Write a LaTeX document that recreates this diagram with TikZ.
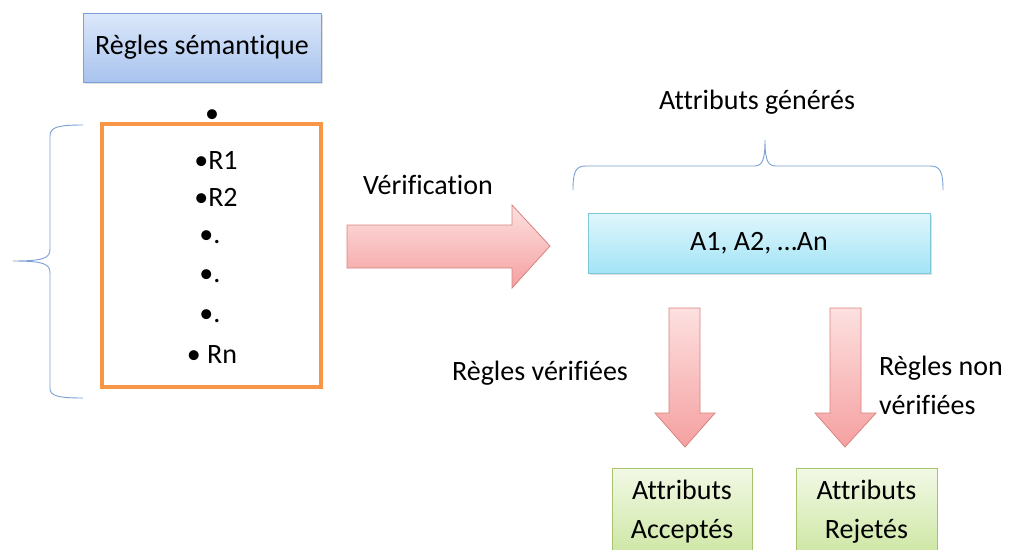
\documentclass[tikz,border=0pt]{standalone}
\usepackage{fontspec}
\setmainfont{Carlito}[Ligatures=NoCommon]
\usetikzlibrary{shadows}
\definecolor{bluetop}{HTML}{DCE8FA}
\definecolor{bluebot}{HTML}{A8C3EE}
\definecolor{blueedge}{HTML}{7DA0D6}
\definecolor{cyantop}{HTML}{E0F6FC}
\definecolor{cyanbot}{HTML}{A3E4F6}
\definecolor{cyanedge}{HTML}{7FC6D9}
\definecolor{pinktop}{HTML}{FDE0E0}
\definecolor{pinkbot}{HTML}{F5A0A0}
\definecolor{pinkedge}{HTML}{D9837F}
\definecolor{greentop}{HTML}{F2F9E6}
\definecolor{greenbot}{HTML}{CDE6A3}
\definecolor{greenedge}{HTML}{A7C46C}
\definecolor{orangeedge}{HTML}{F79646}
\definecolor{braceblue}{HTML}{7BA0D4}
\tikzset{
  txt/.style={font=\fontsize{28}{39}\selectfont, text=black, inner sep=0pt},
  bluebox/.style={draw=blueedge, top color=bluetop, bottom color=bluebot, line width=0.8pt, drop shadow={opacity=0.25, shadow xshift=1.5pt, shadow yshift=-2pt}},
  cyanbox/.style={draw=cyanedge, top color=cyantop, bottom color=cyanbot, line width=0.8pt, drop shadow={opacity=0.25, shadow xshift=1.5pt, shadow yshift=-2pt}},
  greenbox/.style={draw=greenedge, top color=greentop, bottom color=greenbot, line width=0.8pt, align=center},
  blockarrow/.style={draw=pinkedge, top color=pinktop, bottom color=pinkbot, line width=0.8pt, line join=miter},
  bracestyle/.style={draw=braceblue, line width=0.9pt},
}
\begin{document}
\begin{tikzpicture}[x=1pt,y=-1pt]
\path[use as bounding box, fill=white] (0,0) rectangle (1012,549);
\clip (0,0) rectangle (1012,549);

% Règles sémantique box
\node[bluebox, txt, minimum width=238pt, minimum height=69pt] (regles) at (202,47.5) {Règles sémantique};

% top lone bullet
\node[txt] (topdot) at (212,116) {•};

% orange box
\node[draw=orangeedge, line width=3.2pt, minimum width=219pt, minimum height=263pt, inner sep=0pt] (rulebox) at (211.5,255.5) {};
\node[txt] (r1) at (216,160) {•R1};
\node[txt] (r2) at (216,197) {•R2};
\node[txt] (d1) at (210,237) {•.};
\node[txt] (d2) at (210,276) {•.};
\node[txt] (d3) at (210,316) {•.};
\node[txt] (rn) at (212,355) {• Rn};

% left brace
\coordinate (lbtop) at (83,125);
\coordinate (lbtip) at (13,261);
\coordinate (lbbot) at (83,398);
\draw[bracestyle] (lbtop) .. controls (58,125) and (50,127) .. (50,136) -- (50,249)
  .. controls (50,258) and (44,261) .. (lbtip)
  .. controls (44,261) and (50,264) .. (50,273) -- (50,388)
  .. controls (50,396) and (58,398) .. (lbbot);

% Vérification label and arrow
\node[txt] (verif) at (428,185) {Vérification};
\shade[blockarrow] (347,225) -- (512,225) -- (512,205) -- (550,246) -- (512,288) -- (512,268) -- (347,268) -- cycle;

% Attributs générés and brace
\node[txt] (gen) at (757,102) {Attributs générés};
\coordinate (tbl) at (573,190);
\coordinate (tbr) at (943,190);
\coordinate (tbtip) at (765,140);
\draw[bracestyle] (tbl) .. controls (573,171) and (576,166) .. (586,166) -- (754,166)
  .. controls (762,166) and (765,161) .. (tbtip)
  .. controls (765,161) and (768,166) .. (776,166) -- (930,166)
  .. controls (940,166) and (943,171) .. (tbr);

% A1 A2 box
\node[cyanbox, txt, minimum width=342pt, minimum height=60pt] (attr) at (759,243) {A1, A2, …An};

% down arrows
\shade[blockarrow] (669,308) -- (700,308) -- (700,413) -- (715,413) -- (685,447) -- (655,413) -- (669,413) -- cycle;
\shade[blockarrow] (830,308) -- (861,308) -- (861,413) -- (876,413) -- (845,447) -- (815,413) -- (830,413) -- cycle;

\node[txt] (rv) at (540,373) {Règles vérifiées};
\node[txt, align=left, anchor=west] (rnv) at (879,385) {Règles non\\vérifiées};

% green boxes
\node[greenbox, txt, minimum width=140pt, minimum height=88pt] (acc) at (682,512) {Attributs\\Acceptés};
\node[greenbox, txt, minimum width=141pt, minimum height=88pt] (rej) at (866.5,512) {Attributs\\Rejetés};
\end{tikzpicture}
\end{document}
